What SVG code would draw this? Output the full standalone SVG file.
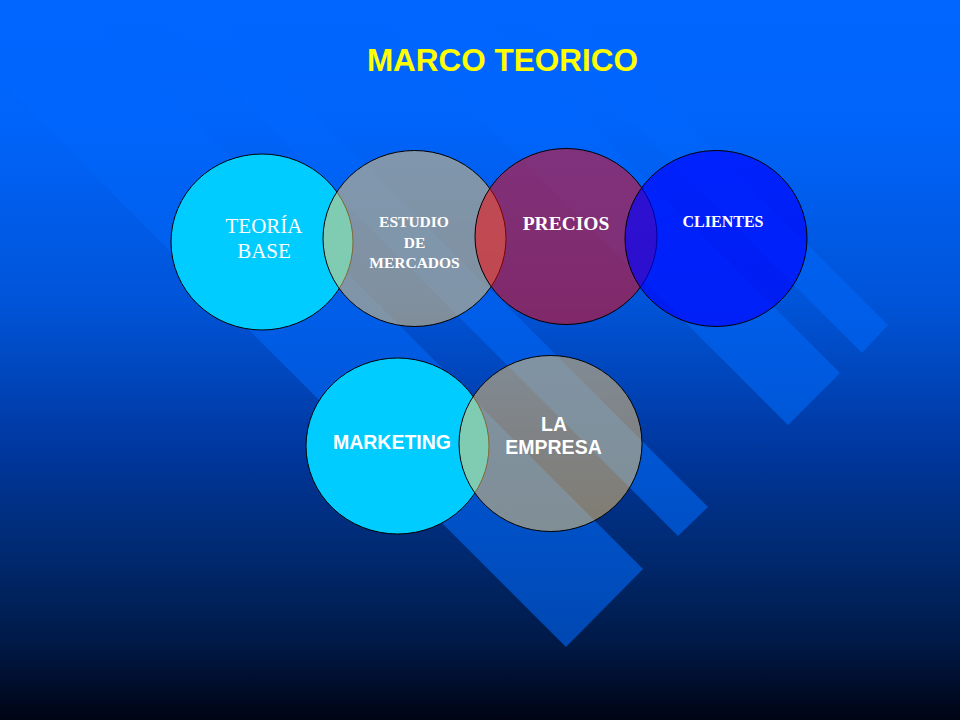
<svg xmlns="http://www.w3.org/2000/svg" width="960" height="720" viewBox="0 0 960 720">
<defs>
<linearGradient id="bg" x1="0" y1="0" x2="0" y2="720" gradientUnits="userSpaceOnUse">
<stop offset="0" stop-color="#0066ff"/>
<stop offset="0.17" stop-color="#0064fa"/>
<stop offset="0.42" stop-color="#0054d8"/>
<stop offset="0.62" stop-color="#0038a0"/>
<stop offset="0.78" stop-color="#00286c"/>
<stop offset="0.89" stop-color="#001a48"/>
<stop offset="0.97" stop-color="#000a22"/>
<stop offset="1" stop-color="#000414"/>
</linearGradient>
<linearGradient id="stripe" x1="0" y1="0" x2="0" y2="720" gradientUnits="userSpaceOnUse">
<stop offset="0" stop-color="#0066ff"/>
<stop offset="0.17" stop-color="#0065fc"/>
<stop offset="0.3" stop-color="#0061f1"/>
<stop offset="0.42" stop-color="#005eea"/>
<stop offset="0.62" stop-color="#0056d4"/>
<stop offset="0.9" stop-color="#0048b2"/>
<stop offset="1" stop-color="#0040a0"/>
</linearGradient>
</defs>
<style>
.c{stroke:#000;stroke-width:1}
.cy{fill:#00ccff}
.gr{fill:#ffcc66;fill-opacity:0.5}
.rd{fill:#ff0000;fill-opacity:0.5}
.bl{fill:#0000ff;fill-opacity:0.65}
.tr{font-family:"Liberation Serif","Times New Roman",serif;fill:#fff;text-anchor:middle}
.ta{font-family:"Liberation Sans",Arial,sans-serif;fill:#fff;text-anchor:middle;font-weight:bold}
</style>
<rect width="960" height="720" fill="url(#bg)"/>
<g id="stripes" fill="url(#stripe)">
<polygon points="-100,-174 643,569 566,647 -100,-19"/>
<polygon points="-100,-301 708,507 678,536 -100,-242"/>
<polygon points="-100,-567 840,373 788,425 -100,-463"/>
<polygon points="-100,-663 888,325 862,353 -100,-609"/>
</g>
<text x="502.5" y="71" font-family="Liberation Sans, Arial, sans-serif" font-weight="bold" font-size="31.5" fill="#ffff00" text-anchor="middle">MARCO TEORICO</text>
<g id="teoria">
<ellipse class="c cy" cx="262" cy="242" rx="91" ry="88"/>
<text class="tr" x="264" y="233" font-size="21">TEORÍA</text>
<text class="tr" x="264" y="258" font-size="21">BASE</text>
</g>
<g id="estudio">
<ellipse class="c gr" cx="414.5" cy="238.5" rx="91.5" ry="88"/>
<text class="tr" x="414" y="227" font-size="15.5" font-weight="bold">ESTUDIO</text>
<text class="tr" x="414.5" y="248" font-size="15.5" font-weight="bold">DE</text>
<text class="tr" x="414.5" y="268" font-size="15.5" font-weight="bold">MERCADOS</text>
</g>
<g id="precios">
<ellipse class="c rd" cx="566" cy="236.5" rx="91" ry="88"/>
<text class="tr" x="566" y="230" font-size="19.5" font-weight="bold">PRECIOS</text>
</g>
<g id="clientes">
<ellipse class="c bl" cx="716" cy="238.5" rx="91" ry="88"/>
<text class="tr" x="723" y="227" font-size="16" font-weight="bold">CLIENTES</text>
</g>
<g id="marketing">
<ellipse class="c cy" cx="397.5" cy="446" rx="91.5" ry="88"/>
<text class="ta" x="392" y="449" font-size="19.5">MARKETING</text>
</g>
<g id="empresa">
<ellipse class="c gr" cx="550.5" cy="443.5" rx="91.5" ry="88"/>
<text class="ta" x="554" y="431" font-size="19.5">LA</text>
<text class="ta" x="553.5" y="454" font-size="19.5">EMPRESA</text>
</g>
<g id="connectors"/>
</svg>
